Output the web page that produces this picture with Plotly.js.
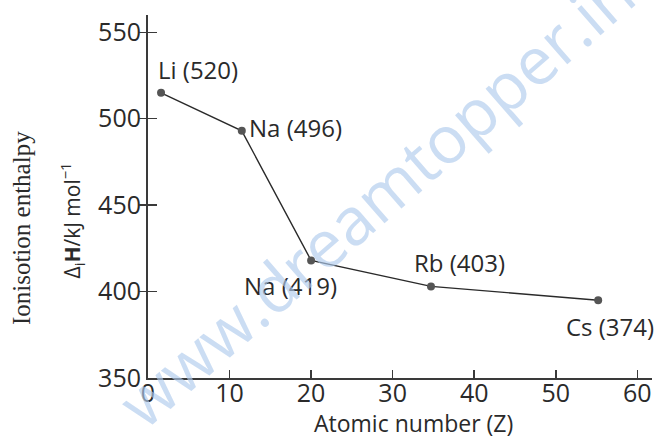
<!DOCTYPE html>
<html>
<head>
<meta charset="utf-8">
<script src="https://cdn.plot.ly/plotly-3.0.1.min.js"></script>
<style>html,body{margin:0;padding:0;background:#fff;}#chart{width:655px;height:436px;}</style>
</head>
<body>
<div id="chart"></div>
<script>
// Data
const atomicNumber = [1.6, 11.5, 20, 34.7, 55.2];
const enthalpy = [515, 493, 418, 403, 395];
const pointLabels = ["Li (520)", "Na (496)", "Na (419)", "Rb (403)", "Cs (374)"];
const xTicks = [0, 10, 20, 30, 40, 50, 60];
const yTicks = [350, 400, 450, 500, 550];
const xTitle = "Atomic number (Z)";
const yTitle1 = "Ionisotion enthalpy";
const yTitle2 = "Δ<sub>i</sub><b>H</b>/kJ mol<sup>−1</sup>";
const watermark = "www.dreamtopper.in";

const sans = "Open Sans, Noto Sans, sans-serif";
const ink = "#2a2a2a";
const axisColor = "#3a3a3a";

// label placement (offsets in px)
const labelStyle = [
  {xanchor: "left", yanchor: "bottom", xshift: -5, yshift: 5},
  {xanchor: "left", yanchor: "middle", xshift: 5, yshift: 3},
  {xanchor: "center", yanchor: "top", xshift: -21, yshift: -7},
  {xanchor: "center", yanchor: "bottom", xshift: 29, yshift: 5},
  {xanchor: "center", yanchor: "top", xshift: 12, yshift: -8}
];

const annotations = pointLabels.map((t, i) => Object.assign({
  x: atomicNumber[i], y: enthalpy[i], xref: "x", yref: "y",
  text: t, showarrow: false,
  font: {family: sans, size: 24, color: ink}
}, labelStyle[i]));

annotations.push({
  xref: "paper", yref: "paper", x: -0.252, y: 0.413, xanchor: "center", yanchor: "middle",
  text: yTitle1, textangle: -90, showarrow: false,
  font: {family: "Liberation Serif, DejaVu Serif, serif", size: 25, color: ink}
});
annotations.push({
  xref: "paper", yref: "paper", x: -0.152, y: 0.435, xanchor: "center", yanchor: "middle",
  text: yTitle2, textangle: -90, showarrow: false,
  font: {family: sans, size: 21, color: ink}
});
annotations.push({
  xref: "paper", yref: "paper", x: 0.526, y: 0, xanchor: "center", yanchor: "middle",
  yshift: -45, text: xTitle, showarrow: false,
  font: {family: sans, size: 23, color: ink}
});
annotations.push({
  xref: "paper", yref: "paper", x: 0.45, y: 0.5, xanchor: "center", yanchor: "middle",
  text: watermark, textangle: -41, showarrow: false,
  font: {family: sans, size: 66, color: "rgba(175,203,236,0.65)"}
});

const trace = {
  x: atomicNumber, y: enthalpy, type: "scatter", mode: "lines+markers",
  line: {color: ink, width: 1.4},
  marker: {color: "#555555", size: 8},
  hoverinfo: "none"
};

const tickAxis = (side, len) => ({
  overlaying: "y", range: [350, 560], tickvals: yTicks.slice(1),
  ticks: side, ticklen: len, tickwidth: 1.5, tickcolor: axisColor,
  showticklabels: false, showgrid: false, zeroline: false, showline: false
});

const layout = {
  width: 655, height: 436,
  margin: {l: 148, r: 3, t: 15, b: 58},
  paper_bgcolor: "#fff", plot_bgcolor: "rgba(0,0,0,0)",
  showlegend: false,
  xaxis: {
    range: [0, 61.8], tickvals: xTicks, ticktext: xTicks.map(String),
    ticks: "inside", ticklen: 8, tickwidth: 1.5, tickcolor: axisColor,
    ticklabelstandoff: -8,
    showline: true, linecolor: axisColor, linewidth: 2,
    showgrid: false, zeroline: false,
    tickfont: {family: sans, size: 25, color: ink}
  },
  yaxis: {
    range: [350, 560], tickvals: yTicks, ticktext: yTicks.map(String),
    ticks: "outside", ticklen: 3, tickwidth: 0.01, tickcolor: "rgba(0,0,0,0)",
    ticklabelstandoff: -3,
    showline: true, linecolor: axisColor, linewidth: 2,
    showgrid: false, zeroline: false,
    tickfont: {family: sans, size: 25, color: ink}
  },
  yaxis2: tickAxis("outside", 8),
  yaxis3: tickAxis("inside", 9),
  annotations: annotations
};

const dummy2 = {x: [0], y: [350], yaxis: "y2", type: "scatter", mode: "markers",
  marker: {opacity: 0}, hoverinfo: "none"};
const dummy3 = {x: [0], y: [350], yaxis: "y3", type: "scatter", mode: "markers",
  marker: {opacity: 0}, hoverinfo: "none"};

Plotly.newPlot("chart", [trace, dummy2, dummy3], layout, {staticPlot: true});
</script>
</body>
</html>
